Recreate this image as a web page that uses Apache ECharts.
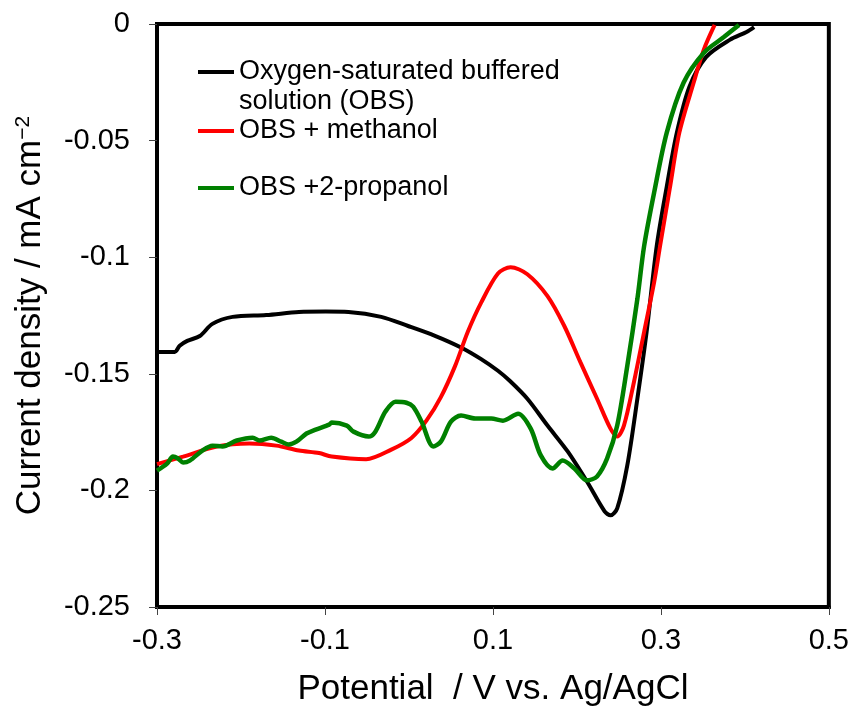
<!DOCTYPE html>
<html><head><meta charset="utf-8">
<script src="https://cdn.jsdelivr.net/npm/echarts@6/dist/echarts.min.js"></script>
<style>html,body{margin:0;padding:0;background:#fff}#c{width:852px;height:712px}</style>
</head><body><div id="c"></div>
<script>
const seriesNames = ['Oxygen-saturated buffered\nsolution (OBS)', 'OBS + methanol', 'OBS +2-propanol'];
const seriesColors = ['#000000', '#ff0000', '#008000'];

const obs = [
  [-0.300,-0.1406],[-0.279,-0.1406],[-0.273,-0.1380],[-0.264,-0.1359],[-0.249,-0.1338],
  [-0.234,-0.1286],[-0.210,-0.1256],[-0.170,-0.1248],[-0.131,-0.1235],[-0.099,-0.1233],
  [-0.072,-0.1235],[-0.033,-0.1256],[-0.001,-0.1295],[0.031,-0.1337],[0.062,-0.1387],
  [0.086,-0.1437],[0.106,-0.1487],[0.120,-0.1530],[0.141,-0.1607],[0.165,-0.1722],
  [0.189,-0.1833],[0.212,-0.1962],[0.233,-0.2090],[0.240,-0.2107],[0.248,-0.2077],
  [0.260,-0.1893],[0.272,-0.1607],[0.283,-0.1321],[0.295,-0.0953],[0.307,-0.0697],
  [0.319,-0.0466],[0.334,-0.0269],[0.354,-0.0141],[0.382,-0.0068],[0.402,-0.0034],
  [0.411,-0.0013]
];

const obsMethanol = [
  [-0.300,-0.1887],[-0.269,-0.1855],[-0.229,-0.1812],[-0.190,-0.1799],[-0.158,-0.1808],
  [-0.131,-0.1829],[-0.107,-0.1840],[-0.092,-0.1855],[-0.051,-0.1866],[-0.021,-0.1825],
  [0.003,-0.1775],[0.021,-0.1700],[0.038,-0.1600],[0.055,-0.1466],[0.070,-0.1321],
  [0.086,-0.1195],[0.106,-0.1070],[0.121,-0.1043],[0.141,-0.1073],[0.165,-0.1167],
  [0.185,-0.1295],[0.204,-0.1449],[0.224,-0.1607],[0.240,-0.1735],[0.248,-0.1769],
  [0.256,-0.1722],[0.268,-0.1534],[0.280,-0.1321],[0.292,-0.1107],[0.299,-0.0953],
  [0.311,-0.0697],[0.322,-0.0466],[0.339,-0.0252],[0.351,-0.0111],[0.364,-0.0004]
];

const obsPropanol = [
  [-0.300,-0.1915],[-0.288,-0.1885],[-0.281,-0.1855],[-0.275,-0.1863],[-0.269,-0.1880],
  [-0.261,-0.1872],[-0.246,-0.1829],[-0.234,-0.1808],[-0.222,-0.1812],[-0.205,-0.1786],
  [-0.186,-0.1774],[-0.178,-0.1786],[-0.164,-0.1774],[-0.152,-0.1791],[-0.143,-0.1803],
  [-0.134,-0.1791],[-0.122,-0.1756],[-0.111,-0.1739],[-0.095,-0.1718],[-0.092,-0.1709],
  [-0.074,-0.1722],[-0.066,-0.1748],[-0.048,-0.1769],[-0.040,-0.1748],[-0.028,-0.1662],
  [-0.016,-0.1620],[-0.003,-0.1624],[0.005,-0.1641],[0.015,-0.1705],[0.029,-0.1812],
  [0.038,-0.1791],[0.050,-0.1705],[0.062,-0.1679],[0.079,-0.1692],[0.098,-0.1692],
  [0.112,-0.1701],[0.130,-0.1671],[0.145,-0.1735],[0.157,-0.1850],[0.171,-0.1906],
  [0.183,-0.1872],[0.197,-0.1906],[0.212,-0.1957],[0.224,-0.1940],[0.236,-0.1863],
  [0.248,-0.1722],[0.260,-0.1466],[0.272,-0.1179],[0.280,-0.0953],[0.292,-0.0722],
  [0.307,-0.0466],[0.327,-0.0252],[0.351,-0.0124],[0.375,-0.0056],[0.393,-0.0004]
];

const xAxisMin = -0.3, xAxisMax = 0.5, xTickStep = 0.2;
const yAxisMin = -0.25, yAxisMax = 0, yTickStep = 0.05;
const xTitle = 'Potential  / V vs. Ag/AgCl';
const yTitle = 'Current density / mA cm{sup|\u22122}';

const FONT = 'Liberation Sans, Arial, sans-serif';
const chart = echarts.init(document.getElementById('c'), null, {renderer: 'canvas'});

const allData = [obs, obsMethanol, obsPropanol];
const legendTops = [27, 115, 172];
const legendLineHeights = [30, 32, 32];

chart.setOption({
  animation: false,
  backgroundColor: '#ffffff',
  grid: {left: 157, right: 21, top: 24, bottom: 103, show: true,
         borderColor: '#000', borderWidth: 4, backgroundColor: 'transparent'},
  legend: seriesNames.map((n, i) => ({
    data: [n], left: 198, top: legendTops[i], padding: 0,
    orient: 'vertical', selectedMode: false,
    icon: 'rect', itemWidth: 36, itemHeight: 4,
    formatter: name => (i === 0 ? '\n' + name : name),
    textStyle: {fontFamily: FONT, fontSize: 27, color: '#000', lineHeight: legendLineHeights[i]}
  })),
  xAxis: {
    type: 'value', min: xAxisMin, max: xAxisMax, interval: xTickStep,
    axisLine: {show: true, onZero: false, lineStyle: {color: '#000', width: 4}},
    splitLine: {show: false},
    axisTick: {show: true, length: 8, lineStyle: {color: '#444', width: 1}},
    axisLabel: {margin: 19, fontFamily: FONT, fontSize: 29, color: '#000',
      formatter: v => String(Math.round(v * 10) / 10)},
    name: xTitle, nameLocation: 'middle', nameGap: 65,
    nameTextStyle: {fontFamily: FONT, fontSize: 35, color: '#000'}
  },
  yAxis: {
    type: 'value', min: yAxisMin, max: yAxisMax, interval: yTickStep,
    axisLine: {show: true, onZero: false, lineStyle: {color: '#000', width: 4}},
    splitLine: {show: false},
    axisTick: {show: true, length: 8, lineStyle: {color: '#444', width: 1}},
    axisLabel: {margin: 27, fontFamily: FONT, fontSize: 29, color: '#000',
      formatter: v => String(Math.round(v * 100) / 100)},
    name: yTitle, nameLocation: 'middle', nameGap: 109, nameRotate: 90,
    nameTextStyle: {fontFamily: FONT, fontSize: 35, color: '#000',
      rich: {sup: {fontFamily: FONT, fontSize: 21, color: '#000', verticalAlign: 'top'}}}
  },
  series: allData.map((d, i) => ({
    name: seriesNames[i], type: 'line', data: d, showSymbol: false, symbol: 'none',
    smooth: 0.3, color: seriesColors[i],
    lineStyle: {color: seriesColors[i], width: i === 2 ? 4.5 : 4}
  }))
});
</script>
</body></html>
